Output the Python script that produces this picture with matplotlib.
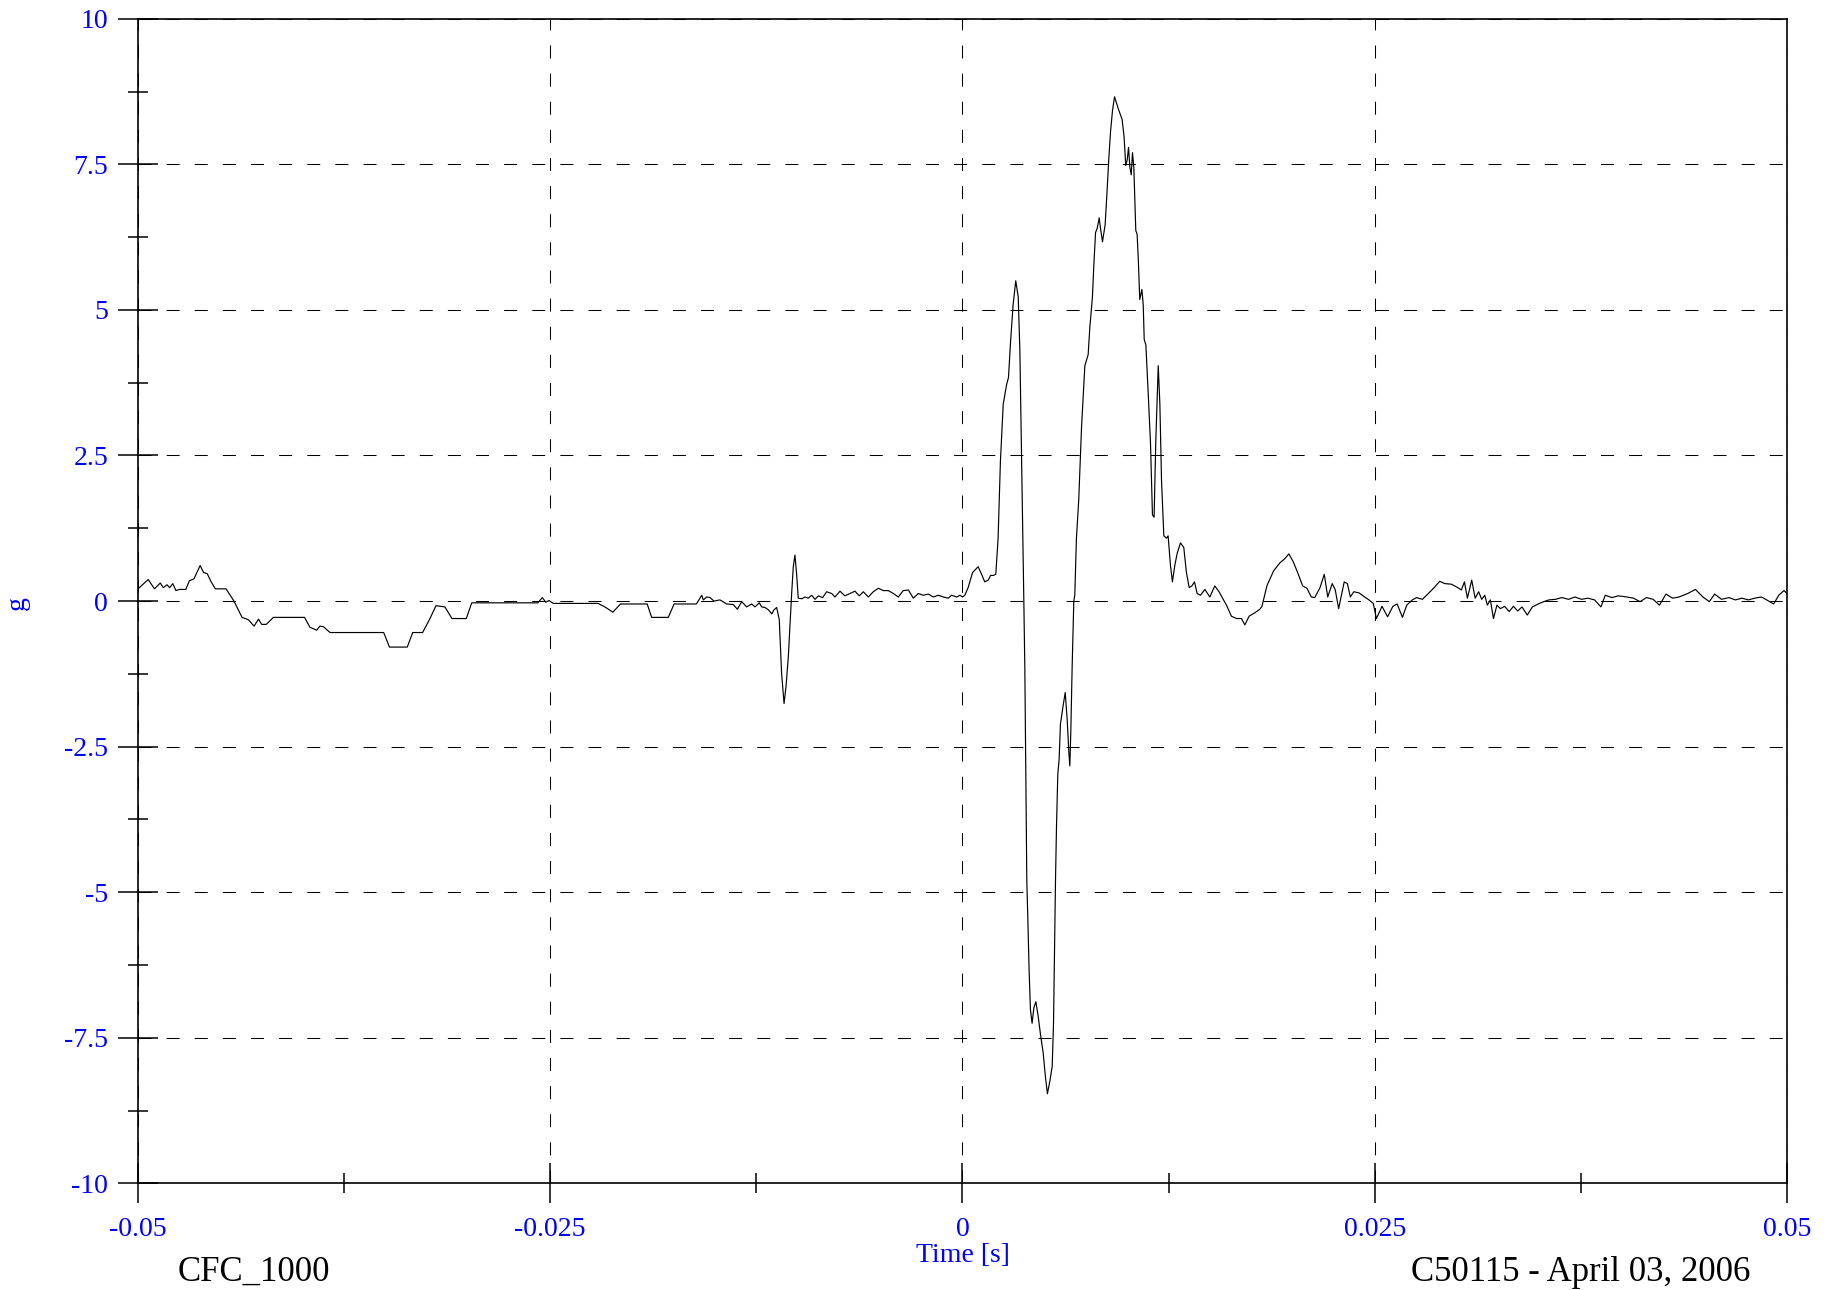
import numpy as np
import matplotlib.pyplot as plt
from matplotlib.ticker import MultipleLocator

plt.rcParams['font.family'] = ['Liberation Serif', 'DejaVu Serif']

# Acceleration trace, split into three stretches (time in s, acceleration in g)
pre_t = [-0.05, -0.04938, -0.04900, -0.04865, -0.04846, -0.04824, -0.04808, -0.04789, -0.04770, -0.04748,
         -0.04710, -0.04688, -0.04661, -0.04623, -0.04602, -0.04580, -0.04558, -0.04531, -0.04466, -0.04418,
         -0.04369, -0.04331, -0.04296, -0.04269, -0.04250, -0.04222, -0.04179, -0.03990, -0.03957, -0.03916,
         -0.03897, -0.03876, -0.03835, -0.03510, -0.03475, -0.03367, -0.03334, -0.03274, -0.03231, -0.03193,
         -0.03139, -0.03096, -0.03009, -0.02976, -0.02575, -0.02548, -0.02527, -0.02508, -0.02481, -0.02210,
         -0.02169, -0.02120, -0.02074, -0.01912, -0.01885, -0.01784, -0.01749, -0.01614, -0.01581]
pre_g = [0.21, 0.37, 0.21, 0.31, 0.23, 0.28, 0.23, 0.30, 0.18, 0.20,
         0.20, 0.35, 0.38, 0.61, 0.49, 0.47, 0.34, 0.21, 0.21, 0.00,
         -0.28, -0.32, -0.43, -0.31, -0.40, -0.40, -0.28, -0.28, -0.45, -0.50,
         -0.43, -0.44, -0.54, -0.54, -0.79, -0.79, -0.54, -0.54, -0.31, -0.08,
         -0.10, -0.30, -0.30, -0.03, -0.03, 0.06, -0.02, 0.01, -0.04, -0.04,
         -0.10, -0.19, -0.05, -0.05, -0.28, -0.28, -0.05, -0.05, 0.10]

near_t = [-0.01572, -0.01551, -0.01531, -0.01507, -0.01471, -0.01430, -0.01390, -0.01365, -0.01339, -0.01309,
          -0.01279, -0.01258, -0.01232, -0.01218, -0.01198, -0.01177, -0.01157, -0.01143, -0.01127, -0.01111,
          -0.01097, -0.01082, -0.01070, -0.01056, -0.01036, -0.01026, -0.01016, -0.01006, -0.00996, -0.00975,
          -0.00955, -0.00935, -0.00915, -0.00894, -0.00874, -0.00848, -0.00824, -0.00793, -0.00773, -0.00743,
          -0.00713, -0.00682, -0.00652, -0.00626, -0.00601, -0.00571, -0.00541, -0.00510, -0.00480, -0.00450,
          -0.00419, -0.00389, -0.00359, -0.00328, -0.00298, -0.00268, -0.00238, -0.00207, -0.00177, -0.00147,
          -0.00116, -0.00086, -0.00066, -0.00035, -0.00015]
near_g = [0.02, 0.07, 0.06, 0.00, 0.02, -0.05, -0.06, -0.14, -0.01, -0.10,
          -0.05, -0.10, -0.03, -0.10, -0.11, -0.15, -0.22, -0.15, -0.11, -0.32,
          -1.24, -1.76, -1.46, -0.95, 0.13, 0.59, 0.79, 0.47, 0.05, 0.04,
          0.07, 0.05, 0.10, 0.03, 0.09, 0.06, 0.16, 0.13, 0.07, 0.17,
          0.09, 0.13, 0.17, 0.09, 0.16, 0.07, 0.16, 0.22, 0.18, 0.18,
          0.13, 0.07, 0.18, 0.19, 0.05, 0.13, 0.10, 0.12, 0.07, 0.10,
          0.07, 0.05, 0.10, 0.07, 0.10]

pulse_t = [0.0, 0.00014, 0.00034, 0.00061, 0.00095, 0.00111, 0.00135, 0.00156, 0.00170, 0.00186,
           0.00202, 0.00216, 0.00230, 0.00247, 0.00267, 0.00279, 0.00291, 0.00307, 0.00323, 0.00338,
           0.00348, 0.00358, 0.00372, 0.00378, 0.00384, 0.00390, 0.00396, 0.00404, 0.00412, 0.00422,
           0.00433, 0.00445, 0.00459, 0.00473, 0.00489, 0.00503, 0.00515, 0.00530, 0.00544, 0.00552,
           0.00558, 0.00564, 0.00570, 0.00578, 0.00586, 0.00594, 0.00610, 0.00623, 0.00635, 0.00645,
           0.00651, 0.00657, 0.00665, 0.00675, 0.00681, 0.00691, 0.00705, 0.00722, 0.00732, 0.00742,
           0.00762, 0.00772, 0.00788, 0.00796, 0.00807, 0.00817, 0.00829, 0.00837, 0.00849, 0.00865,
           0.00877, 0.00887, 0.00898, 0.00910, 0.00922, 0.00944, 0.00968, 0.00980, 0.00990, 0.00999,
           0.01007, 0.01015, 0.01023, 0.01031, 0.01039, 0.01045, 0.01051, 0.01059, 0.01067, 0.01075,
           0.01088, 0.01096, 0.01102, 0.01112, 0.01126, 0.01140, 0.01152, 0.01162, 0.01172, 0.01187,
           0.01197, 0.01207, 0.01221, 0.01237, 0.01247, 0.01261, 0.01273, 0.01288, 0.01302, 0.01322,
           0.01342, 0.01358, 0.01375, 0.01391, 0.01407, 0.01423, 0.01443, 0.01470, 0.01500, 0.01530,
           0.01556, 0.01581, 0.01601, 0.01631, 0.01662, 0.01692, 0.01712, 0.01738, 0.01773, 0.01803]
pulse_g = [0.07, 0.10, 0.23, 0.49, 0.59, 0.49, 0.33, 0.36, 0.44, 0.44,
           0.46, 1.08, 2.40, 3.38, 3.71, 3.84, 4.43, 5.09, 5.50, 5.22,
           4.30, 2.53, 0.00, -1.13, -2.97, -4.80, -5.42, -6.34, -7.01, -7.25,
           -6.98, -6.88, -7.13, -7.44, -7.75, -8.17, -8.46, -8.24, -7.99, -7.25,
           -6.03, -4.80, -3.88, -2.97, -2.72, -2.11, -1.80, -1.57, -2.04, -2.60,
           -2.83, -2.23, -1.13, 0.00, 0.10, 1.08, 1.74, 2.99, 3.51, 4.04,
           4.23, 4.69, 5.22, 5.74, 6.33, 6.40, 6.58, 6.40, 6.17, 6.46,
           7.05, 7.58, 8.07, 8.43, 8.66, 8.46, 8.27, 7.97, 7.48, 7.58,
           7.79, 7.45, 7.32, 7.70, 7.45, 6.92, 6.36, 6.30, 5.81, 5.18,
           5.35, 5.09, 4.49, 4.40, 3.58, 2.72, 1.48, 1.44, 2.72, 4.04,
           3.38, 2.07, 1.12, 1.08, 1.12, 0.62, 0.33, 0.62, 0.82, 1.00,
           0.92, 0.49, 0.23, 0.26, 0.33, 0.13, 0.10, 0.20, 0.07, 0.26,
           0.16, 0.03, -0.07, -0.26, -0.30, -0.30, -0.41, -0.26, -0.20, -0.14]

tail_t = [0.01816, 0.01847, 0.01887, 0.01926, 0.01952, 0.01979, 0.02005, 0.02031, 0.02063, 0.02089,
          0.02115, 0.02136, 0.02168, 0.02194, 0.02215, 0.02242, 0.02260, 0.02281, 0.02315, 0.02334,
          0.02352, 0.02373, 0.02405, 0.02439, 0.02465, 0.02491, 0.02510, 0.02544, 0.02578, 0.02610,
          0.02636, 0.02668, 0.02694, 0.02728, 0.02754, 0.02789, 0.02825, 0.02860, 0.02894, 0.02925,
          0.02965, 0.03004, 0.03025, 0.03044, 0.03062, 0.03088, 0.03109, 0.03130, 0.03149, 0.03167,
          0.03183, 0.03201, 0.03220, 0.03241, 0.03262, 0.03288, 0.03315, 0.03341, 0.03367, 0.03393,
          0.03425, 0.03456, 0.03491, 0.03525, 0.03556, 0.03596, 0.03635, 0.03675, 0.03714, 0.03754,
          0.03793, 0.03833, 0.03872, 0.03898, 0.03938, 0.03977, 0.04030, 0.04069, 0.04109, 0.04148,
          0.04188, 0.04227, 0.04266, 0.04306, 0.04345, 0.04398, 0.04445, 0.04490, 0.04529, 0.04561,
          0.04603, 0.04648, 0.04687, 0.04727, 0.04766, 0.04805, 0.04845, 0.04877, 0.04919, 0.04950,
          0.04982, 0.05]
tail_g = [-0.09, 0.27, 0.52, 0.66, 0.72, 0.81, 0.68, 0.50, 0.26, 0.22,
          0.07, 0.06, 0.23, 0.46, 0.07, 0.30, 0.20, -0.13, 0.33, 0.30,
          0.07, 0.16, 0.14, 0.07, 0.02, -0.04, -0.30, -0.09, -0.27, -0.09,
          -0.05, -0.28, -0.07, 0.02, 0.06, 0.03, 0.13, 0.23, 0.34, 0.30,
          0.29, 0.23, 0.19, 0.33, 0.05, 0.36, 0.05, 0.16, 0.03, 0.10,
          -0.07, 0.02, -0.30, -0.07, -0.13, -0.09, -0.18, -0.09, -0.17, -0.10,
          -0.24, -0.10, -0.05, -0.01, 0.02, 0.03, 0.06, 0.03, 0.07, 0.03,
          0.05, 0.02, -0.10, 0.10, 0.06, 0.09, 0.07, 0.05, -0.01, 0.06,
          0.03, -0.07, 0.12, 0.05, 0.07, 0.13, 0.20, 0.07, -0.01, 0.12,
          0.03, 0.06, 0.02, 0.05, 0.02, 0.05, 0.07, 0.02, -0.05, 0.10,
          0.18, 0.13]

x_ticks = [-0.05, -0.025, 0, 0.025, 0.05]
x_labels = ['-0.05', '-0.025', '0', '0.025', '0.05']
y_ticks = [10, 7.5, 5, 2.5, 0, -2.5, -5, -7.5, -10]
y_labels = ['10', '7.5', '5', '2.5', '0', '-2.5', '-5', '-7.5', '-10']

filter_class = 'CFC_1000'
test_info = 'C50115 - April 03, 2006'

t = np.concatenate([pre_t, near_t, pulse_t, tail_t])
g = np.concatenate([pre_g, near_g, pulse_g, tail_g])

fig = plt.figure(figsize=(18.3, 12.9), dpi=100)
ax = fig.add_axes([0.0754, 0.0826, 0.9011, 0.9029])

ax.plot(t, g, color='black', lw=0.85)

ax.set_xlim(-0.05, 0.05)
ax.set_ylim(-10, 10)
ax.set_xticks(x_ticks, x_labels)
ax.set_yticks(y_ticks, y_labels)
ax.xaxis.set_minor_locator(MultipleLocator(0.0125))
ax.yaxis.set_minor_locator(MultipleLocator(1.25))

blue = '#0000ff'
ax.tick_params(which='major', direction='inout', length=29, width=1.1,
               labelsize=20, labelcolor=blue, top=False, right=False)
ax.tick_params(which='minor', direction='inout', length=14.5, width=1.1,
               top=False, right=False)
ax.tick_params(axis='x', which='major', pad=10)
ax.tick_params(axis='y', which='major', pad=7)

ax.grid(which='major', color='black', lw=0.75, linestyle=(0, (12.5, 14.5)))
for s in ax.spines.values():
    s.set_linewidth(1.2)

ax.set_xlabel('Time [s]', fontsize=20, color=blue, va='center')
ax.xaxis.set_label_coords(0.5, -0.0618)
ax.set_ylabel('g', fontsize=20, color=blue, va='center')
ax.yaxis.set_label_coords(-0.0731, 0.498)

fig.text(0.1388, 0.007, filter_class, fontsize=25, ha='center', va='baseline')
fig.text(0.864, 0.007, test_info, fontsize=25, ha='center', va='baseline')

fig.savefig('out.png', dpi=100)
